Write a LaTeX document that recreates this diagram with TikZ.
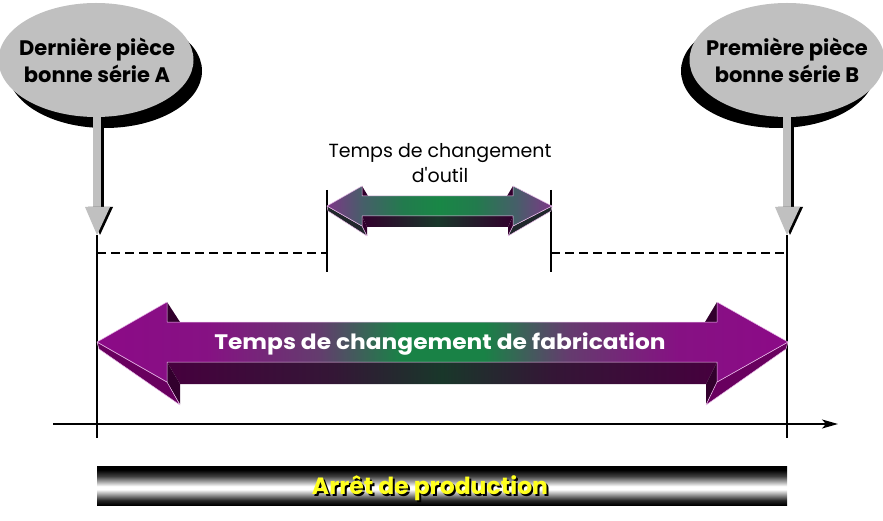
\documentclass[tikz,border=0pt]{standalone}
\usepackage{fontspec}
\setmainfont{Poppins}
\usetikzlibrary{arrows.meta,shapes.geometric}
\definecolor{pL}{RGB}{140,10,135}
\definecolor{pM}{RGB}{100,60,110}
\definecolor{pG}{RGB}{25,130,70}
\definecolor{dP}{RGB}{70,0,62}
\definecolor{dG}{RGB}{25,55,42}
\definecolor{hP}{RGB}{105,0,95}
\definecolor{tP}{RGB}{50,0,45}
\definecolor{sL}{RGB}{125,55,135}
\definecolor{sM}{RGB}{70,95,105}
\definecolor{sG}{RGB}{25,135,70}
\definecolor{ballgray}{RGB}{192,192,192}
\definecolor{edge}{RGB}{235,190,235}
\definecolor{yel}{RGB}{255,255,30}
\pgfdeclarehorizontalshading{bigfront}{100bp}{color(0bp)=(pL); color(25bp)=(pL); color(33bp)=(pL!85!pM); color(41bp)=(pM); color(47bp)=(pG); color(53bp)=(pG); color(59bp)=(pM); color(67bp)=(pL!85!pM); color(75bp)=(pL); color(100bp)=(pL)}
\pgfdeclarehorizontalshading{bigbottom}{100bp}{color(0bp)=(dP); color(25bp)=(dP); color(40bp)=(dP!60!dG); color(50bp)=(dG); color(60bp)=(dP!60!dG); color(75bp)=(dP); color(100bp)=(dP)}
\pgfdeclarehorizontalshading{smallfront}{100bp}{color(0bp)=(sL); color(25bp)=(sL); color(33bp)=(sM); color(42bp)=(pG!80!sM); color(50bp)=(sG); color(58bp)=(pG!80!sM); color(67bp)=(sM); color(75bp)=(sL); color(100bp)=(sL)}
\pgfdeclarehorizontalshading{smallbottom}{100bp}{color(0bp)=(tP); color(25bp)=(tP); color(50bp)=(dG); color(75bp)=(tP); color(100bp)=(tP)}
\pgfdeclareverticalshading{barshade}{100bp}{color(0bp)=(black); color(25bp)=(black); color(31bp)=(black!85); color(45bp)=(white); color(49bp)=(white); color(62bp)=(black!75); color(70bp)=(black); color(75bp)=(black); color(100bp)=(black)}
\tikzset{
  vline/.style={line width=1.4pt, black},
  dline/.style={line width=2pt, black, dash pattern=on 9pt off 5pt},
  ball/.style={ellipse, fill=ballgray, minimum width=195pt, minimum height=114pt, inner sep=0pt},
  balltext/.style={font=\fontsize{21}{26}\selectfont\bfseries, anchor=base, text=black},
  facee/.style={draw=edge, line width=0.5pt, line join=round},
}
\newcommand{\shadowtext}[1]{\makebox[0pt][l]{\hspace{2pt}\raisebox{-2pt}{\color{black}#1}}{\color{yel}#1}}
\begin{document}
\begin{tikzpicture}[x=1pt,y=-1pt]
\useasboundingbox (0,0) rectangle (883,521);
% ---------- markers ----------
\coordinate (At) at (97,235);
\coordinate (Ab) at (97,438);
\coordinate (Bt) at (787,235);
\coordinate (Bb) at (787,438);
\coordinate (S1t) at (327,190);
\coordinate (S1b) at (327,272);
\coordinate (S2t) at (551,190);
\coordinate (S2b) at (551,272);
\coordinate (D1) at (97,253);
\coordinate (D2) at (327,253);
\coordinate (D3) at (551,253);
\coordinate (D4) at (787,253);
\coordinate (X0) at (53,424);
\coordinate (X1) at (838,424);
% ---------- balloons ----------
\fill[black] (105,71) ellipse [x radius=97, y radius=57];
\node[ball] (ballA) at (96,60) {};
\fill[black] (778,71) ellipse [x radius=97, y radius=57];
\node[ball] (ballB) at (787,60) {};
\node[balltext] (tA1) at (97,56) {Dernière pièce};
\node[balltext] (tA2) at (97,83) {bonne série A};
\node[balltext] (tB1) at (787,56) {Première pièce};
\node[balltext] (tB2) at (787,83) {bonne série B};
% ---------- gray pointer arrows ----------
\foreach \c in {97,787}{
  \fill[black] (\c-4,118) rectangle (\c+7,207);
  \fill[ballgray] (\c-4,100) rectangle (\c+4,207);
  \fill[black] (\c-9,207) -- (\c+16,207) -- (\c+3,235) -- cycle;
  \fill[ballgray] (\c-12,207) -- (\c+13,207) -- (\c,235) -- cycle;
}
% ---------- vertical and dashed lines ----------
\draw[vline] (At) -- (Ab);
\draw[vline] (Bt) -- (Bb);
\draw[vline, line width=1.1pt] (S1t) -- (S1b);
\draw[vline, line width=1.1pt] (S2t) -- (S2b);
\draw[dline] (D1) -- (D2);
\draw[dline] (D3) -- (D4);
% ---------- axis ----------
\draw[line width=1.3pt, -{Stealth[length=16pt, width=9pt, inset=4pt]}] (X0) -- (X1);
% ---------- big arrow ----------
\shade[shading=bigbottom] (167,362) -- (717,362) -- (706,384) -- (180,384) -- cycle;
\fill[tP] (167,362) -- (167,382) -- (180,404) -- (180,384) -- cycle;
\fill[tP] (717,362) -- (717,382) -- (706,404) -- (706,384) -- cycle;
\fill[hP, facee] (97,342) -- (167,382) -- (180,405) -- (99,349) -- cycle;
\fill[hP, facee] (788,342) -- (717,382) -- (706,405) -- (786,349) -- cycle;
\fill[tP] (167,302) -- (167,322) -- (180,322) -- cycle;
\fill[tP] (717,302) -- (717,322) -- (705,322) -- cycle;
\shade[shading=bigfront, facee] (97,342) -- (167,302) -- (167,322) -- (717,322) -- (717,302) -- (788,342) -- (717,382) -- (717,362) -- (167,362) -- (167,382) -- cycle;
\node[font=\fontsize{21}{25}\selectfont\bfseries, text=white, anchor=base] (bigt) at (440,349) {\scalebox{1.11}[1]{Temps de changement de fabrication}};
% ---------- small arrow ----------
\shade[shading=smallbottom] (362,216) -- (513,216) -- (508,227) -- (367,227) -- cycle;
\fill[tP] (362,216) -- (362,226) -- (367,236) -- (367,227) -- cycle;
\fill[tP] (513,216) -- (513,226) -- (508,236) -- (508,227) -- cycle;
\fill[dG!70!tP, facee] (327,206) -- (362,226) -- (367,236) -- (328,211) -- cycle;
\fill[dG!70!tP, facee] (552,206) -- (513,226) -- (508,236) -- (551,211) -- cycle;
\fill[tP] (362,186) -- (362,196) -- (368,196) -- cycle;
\fill[tP] (513,186) -- (513,196) -- (507,196) -- cycle;
\shade[shading=smallfront, facee] (327,206) -- (362,186) -- (362,196) -- (513,196) -- (513,186) -- (552,206) -- (513,226) -- (513,216) -- (362,216) -- (362,226) -- cycle;
\node[font=\fontsize{19}{23}\selectfont, anchor=base] (st1) at (440,158) {Temps de changement};
\node[font=\fontsize{19}{23}\selectfont, anchor=base] (st2) at (440,183) {d\textquotesingle outil};
% ---------- production bar ----------
\shade[shading=barshade] (97,466) rectangle (787,505);
\node[font=\fontsize{23.5}{27}\selectfont\bfseries, anchor=base] (bart) at (430,494) {\shadowtext{Arrêt de production}};
\end{tikzpicture}
\end{document}
